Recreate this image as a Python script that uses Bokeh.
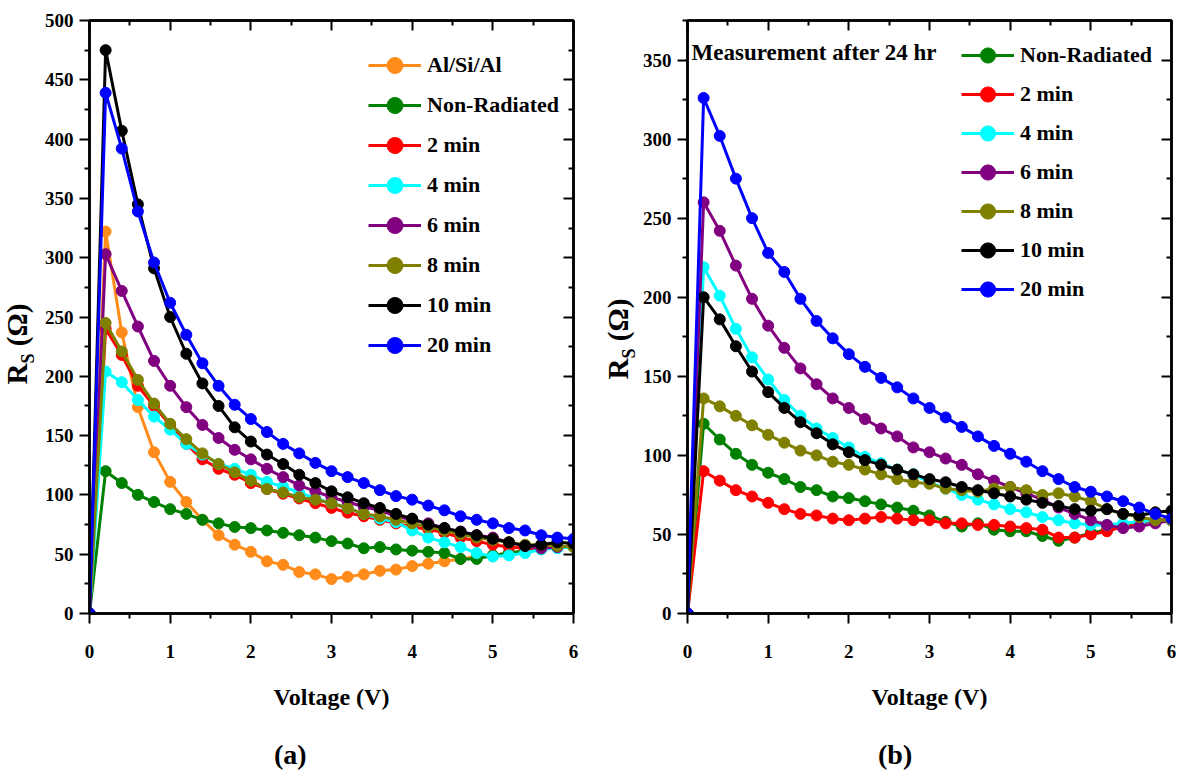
from bokeh.plotting import figure
from bokeh.models import Range1d, FixedTicker, LinearAxis, Label, Legend, LegendItem, Div
from bokeh.layouts import row, column
from bokeh.embed import file_html
from bokeh.resources import INLINE

# ---- data -------------------------------------------------------------
voltage = [0.0, 0.2, 0.4, 0.6, 0.8, 1.0, 1.2, 1.4, 1.6, 1.8, 2.0, 2.2, 2.4, 2.6, 2.8,
           3.0, 3.2, 3.4, 3.6, 3.8, 4.0, 4.2, 4.4, 4.6, 4.8, 5.0, 5.2, 5.4, 5.6, 5.8, 6.0]

# (a) series resistance right after irradiation
a_alsial = [0, 322, 237, 174, 136, 111, 94, 79, 66, 58, 52, 44, 41, 35, 33, 29, 31, 33, 36, 37,
            40, 42, 44, 46, 48, 49, 51, 53, 54, 56, 56]
a_nonrad = [0, 120, 110, 100, 94, 88, 84, 79, 76, 73, 72, 70, 68, 66, 64, 61, 59, 55, 56, 54,
            53, 52, 51, 46, 46, 49, 51, 53, 55, 56, 57]
a_2min = [0, 240, 218, 192, 175, 159, 143, 130, 122, 117, 110, 105, 101, 97, 93, 89, 85, 82, 79, 76,
          73, 71, 68, 64, 61, 58, 56, 55, 55, 56, 57]
a_4min = [0, 204, 195, 180, 166, 155, 143, 134, 126, 122, 117, 111, 107, 102, 97, 93, 89, 84, 80, 77,
          70, 64, 60, 56, 51, 48, 49, 51, 54, 55, 56]
a_6min = [0, 303, 272, 242, 213, 192, 174, 159, 148, 138, 130, 122, 115, 108, 103, 98, 94, 90, 87, 82,
          79, 76, 72, 69, 66, 64, 60, 57, 55, 56, 57]
a_8min = [0, 245, 221, 197, 177, 160, 147, 135, 126, 119, 112, 105, 102, 98, 96, 93, 89, 84, 82, 79,
          76, 73, 70, 67, 64, 62, 60, 58, 58, 57, 56]
a_10min = [0, 475, 407, 345, 291, 250, 219, 194, 175, 157, 145, 134, 126, 117, 110, 103, 98, 93, 89, 84,
           80, 75, 72, 69, 66, 63, 60, 57, 58, 60, 59]
a_20min = [0, 439, 392, 339, 296, 262, 235, 211, 192, 176, 164, 153, 143, 135, 127, 120, 115, 110, 104, 99,
           96, 91, 87, 82, 79, 76, 72, 70, 66, 64, 63]

# (b) series resistance measured 24 hr later
b_nonrad = [0, 120, 110, 101, 94, 89, 85, 80, 78, 74, 73, 71, 69, 67, 65, 62, 58, 55, 57, 53,
            52, 52, 49, 46, 48, 51, 53, 55, 57, 59, 59]
b_2min = [0, 90, 84, 78, 74, 70, 66, 63, 62, 60, 59, 60, 61, 60, 59, 59, 57, 57, 56, 56,
          55, 54, 53, 48, 48, 50, 52, 55, 57, 59, 60]
b_4min = [0, 219, 201, 180, 162, 148, 135, 125, 117, 111, 105, 99, 95, 91, 88, 83, 79, 75, 72, 69,
          66, 64, 61, 59, 57, 56, 56, 57, 58, 59, 59]
b_6min = [0, 260, 242, 220, 199, 182, 168, 155, 145, 136, 130, 123, 117, 112, 105, 102, 98, 94, 88, 84,
          80, 76, 72, 67, 63, 59, 56, 54, 55, 57, 59]
b_8min = [0, 136, 131, 125, 119, 113, 108, 103, 100, 96, 94, 91, 88, 85, 83, 82, 79, 78, 77, 79,
          80, 78, 75, 76, 74, 71, 66, 63, 61, 59, 59]
b_10min = [0, 200, 186, 169, 153, 140, 130, 121, 114, 107, 102, 97, 94, 91, 88, 85, 83, 80, 78, 76,
           74, 72, 70, 68, 66, 65, 66, 63, 62, 64, 65]
b_20min = [0, 326, 302, 275, 250, 228, 216, 199, 185, 174, 164, 156, 149, 143, 136, 130, 124, 118, 112, 106,
           101, 96, 90, 85, 80, 77, 74, 71, 67, 63, 60]

a_names = ["Al/Si/Al", "Non-Radiated", "2 min", "4 min", "6 min", "8 min", "10 min", "20 min"]
a_colors = ["#FF8C1A", "#008000", "#FF0000", "#00FFFF", "#800080", "#808000", "#000000", "#0000FF"]
a_series = [a_alsial, a_nonrad, a_2min, a_4min, a_6min, a_8min, a_10min, a_20min]

b_names = ["Non-Radiated", "2 min", "4 min", "6 min", "8 min", "10 min", "20 min"]
b_colors = ["#008000", "#FF0000", "#00FFFF", "#800080", "#808000", "#000000", "#0000FF"]
b_series = [b_nonrad, b_2min, b_4min, b_6min, b_8min, b_10min, b_20min]

x_ticks = [0, 1, 2, 3, 4, 5, 6]
x_minor = [0.5, 1.5, 2.5, 3.5, 4.5, 5.5]
a_yticks = [0, 50, 100, 150, 200, 250, 300, 350, 400, 450, 500]
b_yticks = [0, 50, 100, 150, 200, 250, 300, 350]

FONT = "Liberation Serif"
PLOT_H = 731   # height of the chart row
TAG_H = 40     # strip holding the (a)/(b) tags


def style_axis(ax, inward=False):
    ax.axis_line_width = 2.5
    ax.axis_line_color = "black"
    ax.major_tick_line_width = 2
    ax.minor_tick_line_width = 2
    if inward:
        ax.major_tick_in, ax.major_tick_out = 10, 0
        ax.minor_tick_in, ax.minor_tick_out = 5, 0
    else:
        ax.major_tick_in, ax.major_tick_out = 0, 10
        ax.minor_tick_in, ax.minor_tick_out = 0, 5
    ax.major_label_text_font = FONT
    ax.major_label_text_font_style = "bold"
    ax.major_label_text_font_size = "19px"
    ax.major_label_text_color = "black"
    ax.axis_label_text_font = FONT
    ax.axis_label_text_font_style = "bold"
    ax.axis_label_text_font_size = "24px"
    ax.axis_label_text_color = "black"


def panel(series, names, colors, ymax, yticks, yminor, width, left_border, right_border,
          legend_xy, row_h, row_gap):
    p = figure(width=width, height=PLOT_H, output_backend="svg", toolbar_location=None,
               x_range=Range1d(0, 6), y_range=Range1d(0, ymax),
               min_border_left=left_border, min_border_right=right_border,
               min_border_top=20, min_border_bottom=PLOT_H - 613,
               x_axis_label="Voltage (V)", margin=0)
    p.xgrid.visible = False
    p.ygrid.visible = False
    p.outline_line_color = "black"
    p.outline_line_width = 2.5
    p.background_fill_color = "white"
    p.border_fill_color = "white"

    xt = FixedTicker(ticks=x_ticks, minor_ticks=x_minor)
    yt = FixedTicker(ticks=yticks, minor_ticks=yminor)
    p.xaxis.ticker = xt
    p.yaxis.ticker = yt
    style_axis(p.xaxis[0])
    style_axis(p.yaxis[0])
    p.xaxis[0].major_label_standoff = 21
    p.xaxis[0].axis_label_standoff = 23
    p.yaxis[0].major_label_standoff = 6

    top = LinearAxis(ticker=xt, major_label_overrides={t: "" for t in x_ticks})
    right = LinearAxis(ticker=yt, major_label_overrides={t: "" for t in yticks})
    style_axis(top, inward=True)
    style_axis(right, inward=True)
    p.add_layout(top, "above")
    p.add_layout(right, "right")

    items = []
    for ys, name, col in zip(series, names, colors):
        ln = p.line(voltage, ys, line_color=col, line_width=3)
        sc = p.scatter(voltage, ys, marker="circle", size=11, fill_color=col, line_color=col)
        items.append(LegendItem(label=name, renderers=[ln, sc]))

    leg = Legend(items=items, location=legend_xy, orientation="vertical")
    leg.glyph_width = 53
    leg.glyph_height = row_h
    leg.label_height = row_h
    leg.spacing = row_gap
    leg.padding = 0
    leg.margin = 0
    leg.label_standoff = 6
    leg.label_text_font = FONT
    leg.label_text_font_style = "bold"
    leg.label_text_font_size = "22px"
    leg.label_text_color = "black"
    leg.border_line_color = None
    leg.background_fill_alpha = 0
    p.add_layout(leg)
    return p


def y_title(width, center_x, center_y):
    # rotated "R_S (Ω)" title drawn as HTML text beside a panel
    html = (
        '<div style="position:relative;width:%dpx;height:%dpx;">'
        '<span style="position:absolute;left:%.1fpx;top:%dpx;white-space:nowrap;'
        'transform:translate(-50%%,-50%%) rotate(-90deg);font-family:\'Liberation Serif\';'
        'font-weight:bold;font-size:29px;line-height:29px;color:black;">'
        'R<sub style="font-size:18px;">S</sub> (&Omega;)</span></div>'
    ) % (width, PLOT_H, center_x, center_y)
    return Div(width=width, height=PLOT_H, text=html, margin=0)


def tag(text, left_x):
    html = (
        '<div style="position:relative;width:591px;height:%dpx;">'
        '<span style="position:absolute;left:%dpx;top:24px;transform:translate(0,-50%%);'
        'white-space:nowrap;font-family:\'Liberation Serif\';font-weight:bold;'
        'font-size:28px;line-height:28px;color:black;">%s</span></div>'
    ) % (TAG_H, left_x, text)
    return Div(width=591, height=TAG_H, text=html, margin=0)


DIV_A = 40
DIV_B = 48

pa = panel(a_series, a_names, a_colors, 500, a_yticks, list(range(25, 500, 50)),
           591 - DIV_A, 89 - DIV_A, 18, (279, 248), 40, 0)
pb = panel(b_series, b_names, b_colors, 375, b_yticks, list(range(25, 400, 50)),
           591 - DIV_B, 95 - DIV_B, 11, (274, 305), 38, 1)
pb.add_layout(Label(x=0.05, y=354.6, text="Measurement after 24 hr", text_font=FONT,
                    text_font_style="bold", text_font_size="23px", text_color="black",
                    text_align="left", text_baseline="middle"))

charts = row(y_title(DIV_A, 23, 344), pa, y_title(DIV_B, 32.5, 339), pb, spacing=0, margin=0)
tags = row(tag("(a)", 274), tag("(b)", 287), spacing=0, margin=0)
layout = column(charts, tags, spacing=0, margin=0)
open("out.html", "w").write(file_html(layout, INLINE))
